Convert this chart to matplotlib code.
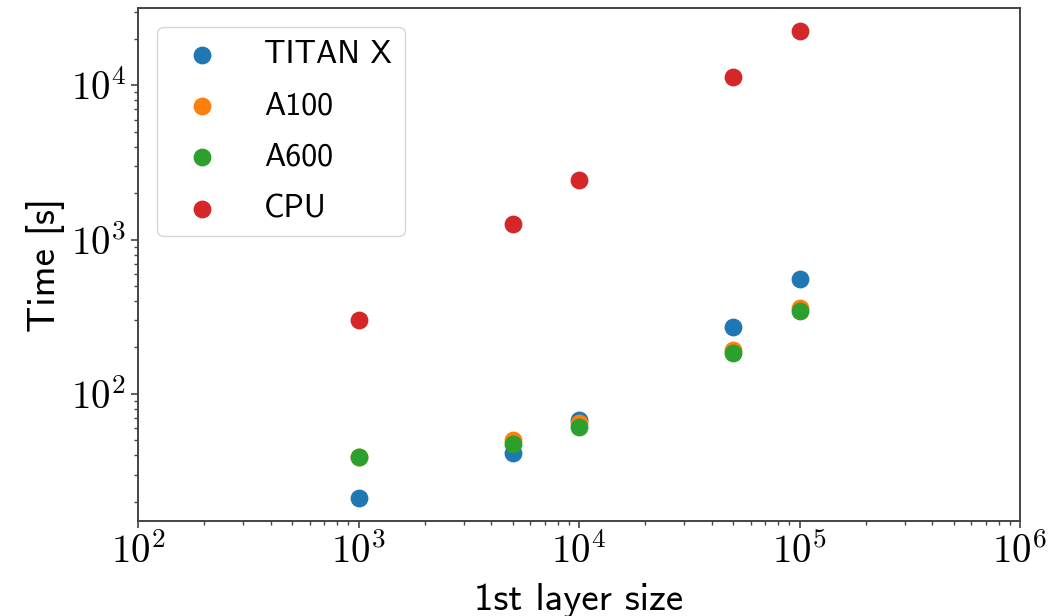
import math
import matplotlib
matplotlib.use('Agg')
from matplotlib import pyplot as plt
from matplotlib.ticker import FuncFormatter

# layer sizes
layer_size = [1000, 5000, 10000, 50000, 100000]

# run times [s]
titan_x = [21.2, 41.5, 68, 273, 555]
a100 = [39, 49.9, 64.9, 193, 359]
a600 = [38.9, 47.5, 60.8, 184, 343]
cpu = [301, 1259, 2427, 11270, 22400]

series = [('TITAN X', titan_x), ('A100', a100), ('A600', a600), ('CPU', cpu)]

plt.rcParams['mathtext.fontset'] = 'cm'
plt.rcParams['font.family'] = 'cmss10'
plt.rcParams['axes.unicode_minus'] = False

fig, ax = plt.subplots(figsize=(10.48, 6.16), dpi=100)
fig.subplots_adjust(left=0.1317, right=0.9733, top=0.987, bottom=0.154)

for name, times in series:
    ax.scatter(layer_size, times, s=140, label=name)

ax.set_xscale('log')
ax.set_yscale('log')
ax.set_xlim(1e2, 1e6)

# tick labels in computer modern like the latex original
fmt = FuncFormatter(lambda v, pos: r'$10^{%d}$' % round(math.log10(v)))
ax.xaxis.set_major_formatter(fmt)
ax.yaxis.set_major_formatter(fmt)
ax.tick_params(axis='both', which='major', labelsize=28, length=5, width=1.2, color='#444444')
ax.tick_params(axis='both', which='minor', length=3, width=1.0, color='#444444')
for sp in ax.spines.values():
    sp.set_color('#444444')
    sp.set_linewidth(1.4)

ax.set_xlabel('1st layer size', fontsize=28, labelpad=8)
ax.set_ylabel('Time [s]', fontsize=28)

ax.legend(loc='upper left', fontsize=23, scatterpoints=1,
          labelspacing=0.7, handletextpad=0.95, borderaxespad=0.6)

fig.savefig('out.png', dpi=100)
